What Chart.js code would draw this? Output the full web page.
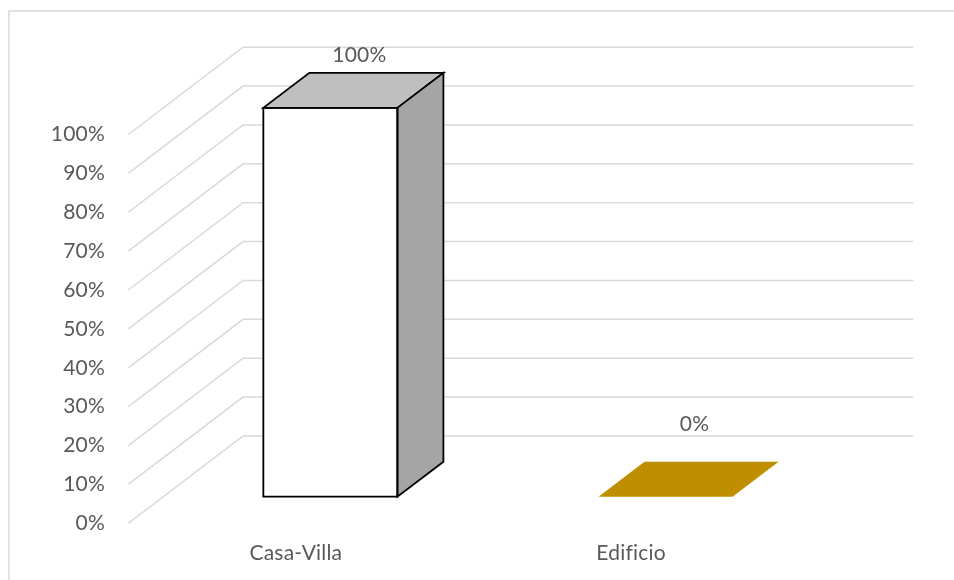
<!DOCTYPE html>
<html>
<head>
<meta charset="utf-8">
<script src="https://cdn.jsdelivr.net/npm/chart.js@4/dist/chart.umd.min.js"></script>
<style>
  html, body { margin: 0; padding: 0; background: #ffffff; }
  #wrap { width: 954px; height: 580px; position: relative; }
</style>
</head>
<body>
<div id="wrap"><canvas id="chart" width="954" height="580"></canvas></div>
<script>
// Housing type shares (percent)
const categories = ['Casa-Villa', 'Edificio'];
const shares = [100, 0];
const valueTicks = [0, 10, 20, 30, 40, 50, 60, 70, 80, 90, 100];

// Per-bar face colours
const frontColors = ['#FFFFFF', '#BF8F00'];
const topColors = ['#BFBFBF', '#BF8F00'];
const sideColors = ['#A5A5A5', '#BF8F00'];
const edgeColors = ['#000000', null];
const labelLift = [18, 37];

// Oblique projection offsets
const FLOOR_DEPTH = { dx: 114.7, dy: -87.3 };
const BAR_FRONT = { dx: 34.5, dy: -26.6 };
const BAR_DEPTH = { dx: 46, dy: -35 };

const TEXT_COLOR = '#595959';
const GRID_COLOR = '#d9d9d9';
const FONT = { family: 'Lato, "Open Sans", sans-serif', size: 21 };

const pct = v => v + '%';

const depthPlugin = {
  id: 'depth3d',
  beforeDraw(chart) {
    const ctx = chart.ctx;
    // slight tracking keeps "fi" from forming a ligature
    if ('letterSpacing' in ctx) ctx.letterSpacing = '0.2px';
    ctx.save();
    ctx.fillStyle = '#ffffff';
    ctx.fillRect(0, 0, chart.width, chart.height);
    // chart frame
    ctx.strokeStyle = GRID_COLOR;
    ctx.lineWidth = 1.5;
    ctx.beginPath();
    ctx.moveTo(9, chart.height);
    ctx.lineTo(9, 11);
    ctx.lineTo(chart.width, 11);
    ctx.stroke();
    ctx.restore();
  },
  beforeDatasetsDraw(chart) {
    const ctx = chart.ctx;
    const ys = chart.scales.y;
    const a = chart.chartArea;
    // side wall and back wall gridlines
    ctx.save();
    ctx.strokeStyle = GRID_COLOR;
    ctx.lineWidth = 1.5;
    ys.ticks.forEach(t => {
      const py = ys.getPixelForValue(t.value);
      ctx.beginPath();
      ctx.moveTo(a.left, py);
      ctx.lineTo(a.left + FLOOR_DEPTH.dx, py + FLOOR_DEPTH.dy);
      ctx.lineTo(a.right + FLOOR_DEPTH.dx, py + FLOOR_DEPTH.dy);
      ctx.stroke();
    });
    ctx.restore();
    // bars sit partway into the floor depth
    ctx.save();
    ctx.translate(BAR_FRONT.dx, BAR_FRONT.dy);
  },
  afterDatasetsDraw(chart) {
    const ctx = chart.ctx;
    const meta = chart.getDatasetMeta(0);
    const dx = BAR_DEPTH.dx, dy = BAR_DEPTH.dy;
    meta.data.forEach((el, i) => {
      const p = el.getProps(['x', 'y', 'base', 'width'], true);
      const l = p.x - p.width / 2, r = p.x + p.width / 2;
      const top = Math.min(p.y, p.base), bot = Math.max(p.y, p.base);
      const edge = edgeColors[i];
      ctx.lineJoin = 'miter';
      ctx.lineWidth = 1.8;
      // top face
      ctx.beginPath();
      ctx.moveTo(l, top);
      ctx.lineTo(r, top);
      ctx.lineTo(r + dx, top + dy);
      ctx.lineTo(l + dx, top + dy);
      ctx.closePath();
      ctx.fillStyle = topColors[i];
      ctx.fill();
      if (edge) { ctx.strokeStyle = edge; ctx.stroke(); }
      if (bot - top > 0.5) {
        // right side face
        ctx.beginPath();
        ctx.moveTo(r, top);
        ctx.lineTo(r + dx, top + dy);
        ctx.lineTo(r + dx, bot + dy);
        ctx.lineTo(r, bot);
        ctx.closePath();
        ctx.fillStyle = sideColors[i];
        ctx.fill();
        if (edge) { ctx.strokeStyle = edge; ctx.stroke(); }
        // front face outline
        if (edge) {
          ctx.beginPath();
          ctx.rect(l, top, r - l, bot - top);
          ctx.strokeStyle = edge;
          ctx.stroke();
        }
      }
    });
    ctx.restore();
    // value labels above each bar
    ctx.save();
    ctx.fillStyle = TEXT_COLOR;
    ctx.font = FONT.size + 'px ' + FONT.family;
    ctx.textAlign = 'center';
    ctx.textBaseline = 'middle';
    meta.data.forEach((el, i) => {
      const p = el.getProps(['x', 'y', 'base'], true);
      const top = Math.min(p.y, p.base);
      const lx = p.x + BAR_FRONT.dx + dx * 0.63;
      const ly = top + BAR_FRONT.dy + dy - labelLift[i];
      ctx.fillText(pct(shares[i]), lx, ly);
    });
    ctx.restore();
  }
};

new Chart(document.getElementById('chart'), {
  type: 'bar',
  data: {
    labels: categories,
    datasets: [{
      data: shares,
      backgroundColor: frontColors,
      borderWidth: 0,
      barPercentage: 0.4,
      categoryPercentage: 1.0
    }]
  },
  options: {
    responsive: false,
    animation: false,
    devicePixelRatio: 1,
    layout: { padding: { left: 0, right: 155.4, top: 134.5, bottom: 0 } },
    plugins: { legend: { display: false }, tooltip: { enabled: false } },
    scales: {
      x: {
        grid: { display: false, drawTicks: false },
        border: { display: false },
        ticks: { color: TEXT_COLOR, font: FONT, padding: 17, maxRotation: 0 },
        afterFit: s => { s.height = 56.7; }
      },
      y: {
        min: 0,
        max: 100,
        afterBuildTicks: s => { s.ticks = valueTicks.map(v => ({ value: v })); },
        grid: { display: false, drawTicks: false },
        border: { display: false },
        ticks: { color: TEXT_COLOR, font: FONT, padding: 23.3, callback: pct },
        afterFit: s => { s.width = 128.3; }
      }
    }
  },
  plugins: [depthPlugin]
});
</script>
</body>
</html>
